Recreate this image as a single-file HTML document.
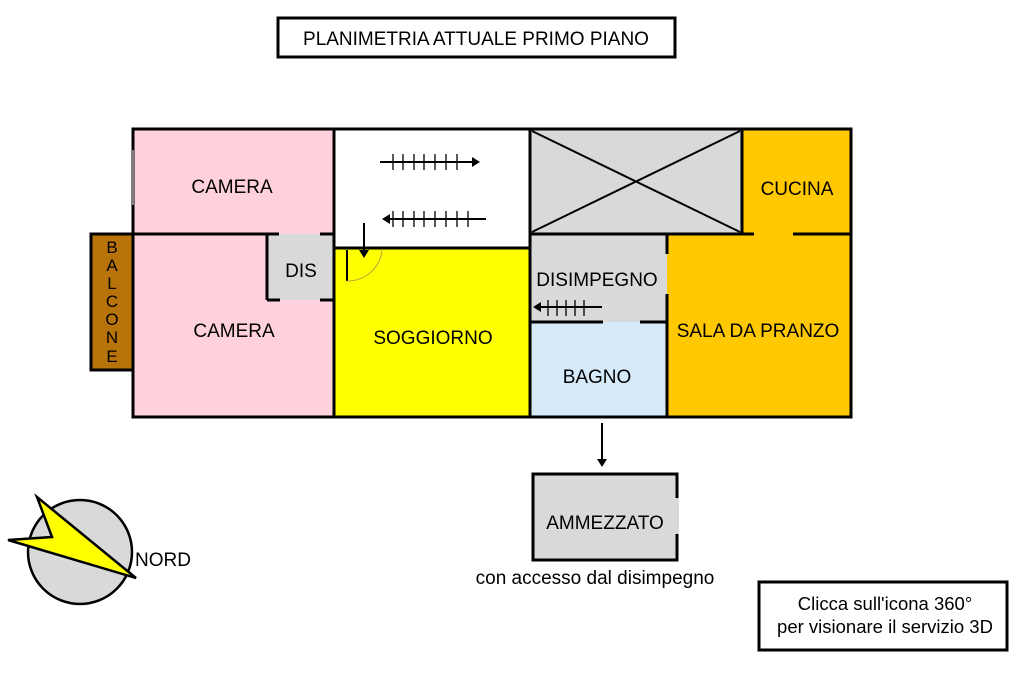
<!DOCTYPE html>
<html><head><meta charset="utf-8"><style>
html,body{margin:0;padding:0;background:#fff;}
svg{display:block;}
text{font-family:"Liberation Sans",Arial,sans-serif;fill:#000;}
</style></head><body>
<svg width="1024" height="682" viewBox="0 0 1024 682" xmlns="http://www.w3.org/2000/svg">
<rect x="0" y="0" width="1024" height="682" fill="#fff"/>
<rect x="278" y="18" width="397" height="39" fill="#fff" stroke="#000" stroke-width="3"/>
<text x="476" y="45" font-size="19" text-anchor="middle">PLANIMETRIA ATTUALE PRIMO PIANO</text>

<rect x="133" y="129" width="201" height="288" fill="#FFD1DC"/>
<rect x="334" y="129" width="196" height="119" fill="#fff"/>
<rect x="334" y="248" width="196" height="169" fill="#FFFF00"/>
<rect x="530" y="129" width="212" height="105" fill="#D9D9D9"/>
<rect x="742" y="129" width="109" height="105" fill="#FFC800"/>
<rect x="530" y="234" width="137" height="88" fill="#D9D9D9"/>
<rect x="530" y="322" width="137" height="95" fill="#D6EAFA"/>
<rect x="667" y="234" width="184" height="183" fill="#FFC800"/>
<rect x="267" y="234" width="67" height="66" fill="#D9D9D9"/>
<rect x="91" y="234" width="42" height="136" fill="#B8730A" stroke="#000" stroke-width="3"/>

<g stroke="#000" stroke-width="3" fill="none">
<rect x="133" y="129" width="718" height="288"/>
<line x1="334" y1="129" x2="334" y2="417"/>
<line x1="133" y1="234" x2="279" y2="234"/>
<line x1="320" y1="234" x2="334" y2="234"/>
<line x1="267" y1="234" x2="267" y2="300"/>
<line x1="267" y1="300" x2="280" y2="300"/>
<line x1="320" y1="300" x2="334" y2="300"/>
<line x1="334" y1="248" x2="530" y2="248"/>
<line x1="530" y1="129" x2="530" y2="417"/>
<line x1="530" y1="234" x2="742" y2="234"/>
<line x1="742" y1="129" x2="742" y2="234"/>
<line x1="742" y1="234" x2="754" y2="234"/>
<line x1="793" y1="234" x2="851" y2="234"/>
<line x1="667" y1="234" x2="667" y2="254"/>
<line x1="667" y1="294" x2="667" y2="417"/>
<line x1="530" y1="322" x2="603" y2="322"/>
<line x1="640" y1="322" x2="667" y2="322"/>
</g>
<line x1="133" y1="150" x2="133" y2="205" stroke="#fff" stroke-width="1"/>
<g stroke="#000" stroke-width="2">
<line x1="532" y1="131" x2="740" y2="232"/>
<line x1="532" y1="232" x2="740" y2="131"/>
</g>

<g stroke="#000" stroke-width="2">
<line x1="380" y1="162" x2="474" y2="162"/>
<line x1="384" y1="219" x2="486" y2="219"/>
<line x1="540" y1="307" x2="602" y2="307"/>
<line x1="364" y1="223" x2="364" y2="250"/>
<line x1="347" y1="250" x2="347" y2="281"/>
<line x1="602" y1="423" x2="602" y2="460"/>
</g>
<g stroke="#000" stroke-width="1.3">
<path d="M393 154v16M403 154v16M414 154v16M424 154v16M435 154v16M446 154v16M457 154v16"/>
<path d="M393 211v16M403 211v16M414 211v16M424 211v16M435 211v16M446 211v16M457 211v16M468 211v16"/>
<path d="M548 300v16M557 300v16M566 300v16M575 300v16M584 300v16"/>
</g>
<polygon points="480,162 472,157 472,167" fill="#000"/>
<polygon points="382,219 390,214 390,224" fill="#000"/>
<polygon points="533,307 541,302 541,312" fill="#000"/>
<polygon points="364,258 359,250 369,250" fill="#000"/>
<polygon points="602,467 597,459 607,459" fill="#000"/>
<path d="M347 281 A35 33 0 0 0 382 249" fill="none" stroke="#b8a040" stroke-width="1"/>

<g font-size="19" text-anchor="middle">
<text x="232" y="193">CAMERA</text>
<text x="234" y="337">CAMERA</text>
<text x="301" y="277">DIS</text>
<text x="433" y="344">SOGGIORNO</text>
<text x="797" y="195">CUCINA</text>
<text x="597" y="286">DISIMPEGNO</text>
<text x="597" y="383">BAGNO</text>
<text x="758" y="337">SALA DA PRANZO</text>
</g>
<g font-size="17" text-anchor="middle">
<text x="112" y="253">B</text>
<text x="112" y="271">A</text>
<text x="112" y="289">L</text>
<text x="112" y="307">C</text>
<text x="112" y="325">O</text>
<text x="112" y="343">N</text>
<text x="112" y="362">E</text>
</g>

<rect x="533" y="474" width="144" height="86" fill="#D9D9D9" stroke="#000" stroke-width="3"/>
<line x1="677" y1="498" x2="677" y2="534" stroke="#D9D9D9" stroke-width="4"/>
<text x="605" y="529" font-size="19" text-anchor="middle">AMMEZZATO</text>
<text x="595" y="584" font-size="19" text-anchor="middle">con accesso dal disimpegno</text>

<circle cx="80" cy="552" r="52" fill="#D9D9D9" stroke="#000" stroke-width="2.5"/>
<polygon points="37,497 52,537 8,540 136,578" fill="#FFFF00" stroke="#000" stroke-width="2.5"/>
<text x="135" y="566" font-size="19">NORD</text>

<rect x="759" y="582" width="248" height="68" fill="#fff" stroke="#000" stroke-width="3"/>
<text x="885" y="610" font-size="18.5" text-anchor="middle">Clicca sull'icona 360°</text>
<text x="885" y="633" font-size="18.5" text-anchor="middle">per visionare il servizio 3D</text>
</svg>
</body></html>
